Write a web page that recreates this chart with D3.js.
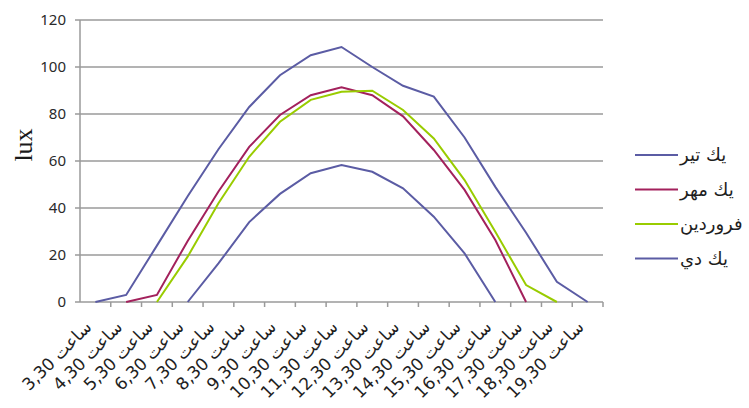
<!DOCTYPE html>
<html>
<head>
<meta charset="utf-8">
<title>lux chart</title>
<script src="https://d3js.org/d3.v7.min.js"></script>
<style>
  body { margin: 0; background: #fff; }
</style>
</head>
<body>
<script>
var width = 749
var height = 408

// categories (hours)
var hours = ["3,30","4,30","5,30","6,30","7,30","8,30","9,30","10,30","11,30",
             "12,30","13,30","14,30","15,30","16,30","17,30","18,30","19,30"]

// series values, null = no point
var tir      = [0, 3, 24, 45, 65, 83, 96.5, 105, 108.5, 100, 92, 87.4, 70, 49, 29.5, 8.6, 0]
var mehr     = [null, 0, 3, 26, 47, 66, 79.6, 88, 91.4, 88, 79, 64.7, 47.7, 26.4, 0, null, null]
var farvardin= [null, null, 0, 19.3, 42, 61.8, 76.7, 86, 89.5, 89.9, 81.7, 69.6, 51.9, 29.9, 7.2, 0, null]
var dey      = [null, null, null, 0, 16.4, 34, 46, 54.8, 58.3, 55.4, 48.4, 36.3, 20.7, 0, null, null, null]

var seriesNames  = ["يك تير", "يك مهر", "يك فروردين", "يك دي"]
var seriesData   = [tir, mehr, farvardin, dey]
var seriesColors = ["#5b5ca4", "#a3215c", "#99cc00", "#5b5ca4"]

var yTicks = [0, 20, 40, 60, 80, 100, 120]

var svg = d3.select("body").append("svg")
    .attr("width", width)
    .attr("height", height)

var plotL = 80, plotR = 603, plotT = 20, plotB = 302

var x = d3.scaleBand().domain(hours).range([plotL, plotR])
var y = d3.scaleLinear().domain([0, 120]).range([plotB, plotT])

// gridlines
svg.append("g")
    .selectAll("line")
    .data(yTicks)
    .enter()
    .append("line")
        .attr("x1", plotL - 5)
        .attr("x2", plotR)
        .attr("y1", d => y(d))
        .attr("y2", d => y(d))
        .attr("stroke", "#9a9a9a")
        .attr("stroke-width", 1.5)

// y axis line
svg.append("line")
    .attr("x1", plotL).attr("x2", plotL)
    .attr("y1", plotT).attr("y2", plotB)
    .attr("stroke", "#9a9a9a").attr("stroke-width", 1.5)

// y labels
svg.append("g")
    .selectAll("text")
    .data(yTicks)
    .enter()
    .append("text")
        .attr("x", plotL - 14)
        .attr("y", d => y(d))
        .attr("dy", "0.36em")
        .attr("text-anchor", "end")
        .attr("font-family", "'Noto Sans', sans-serif")
        .attr("font-size", 15)
        .attr("fill", "#2a2a2a")
        .text(d => d)

// x ticks (band edges)
var edges = hours.map(h => x(h)).concat([plotR])
svg.append("g")
    .selectAll("line")
    .data(edges.slice(1))
    .enter()
    .append("line")
        .attr("x1", d => d).attr("x2", d => d)
        .attr("y1", plotB).attr("y2", plotB + 5)
        .attr("stroke", "#9a9a9a").attr("stroke-width", 1.5)

// x labels
svg.append("g")
    .selectAll("text")
    .data(hours)
    .enter()
    .append("text")
        .attr("transform", d => "translate(" + (x(d) + x.bandwidth() / 2 - 7) + "," + (plotB + 22) + ") rotate(-45)")
        .attr("text-anchor", "end")
        .attr("dy", "0.35em")
        .attr("font-family", "'DejaVu Sans', sans-serif")
        .attr("font-size", 17)
        .attr("fill", "#1e1e1e")
        .text(d => d + "  ساعت")

// y title
svg.append("text")
    .attr("transform", "translate(32,145) rotate(-90)")
    .attr("text-anchor", "middle")
    .attr("font-family", "'Liberation Serif', serif")
    .attr("font-size", 26)
    .attr("fill", "#1a1a1a")
    .text("lux")

// lines
var line = d3.line()
    .defined(d => d.v != null)
    .x(d => x(d.h) + x.bandwidth() / 2)
    .y(d => y(d.v))

seriesData.forEach(function(s, i) {
    svg.append("path")
        .datum(hours.map((h, j) => ({h: h, v: s[j]})))
        .attr("d", line)
        .attr("fill", "none")
        .attr("stroke", seriesColors[i])
        .attr("stroke-width", 2)
})

// legend
var legend = svg.append("g")
    .selectAll("g")
    .data(seriesNames)
    .enter()
    .append("g")
        .attr("transform", (d, i) => "translate(635," + (155 + i * 34.5) + ")")

legend.append("line")
    .attr("x1", 0).attr("x2", 43)
    .attr("stroke", (d, i) => seriesColors[i])
    .attr("stroke-width", 2)

legend.append("text")
    .attr("x", 45)
    .attr("dy", "0.35em")
    .attr("font-family", "'DejaVu Sans', sans-serif")
    .attr("font-size", 18)
    .attr("fill", "#1e1e1e")
    .text(d => d)
</script>
</body>
</html>
